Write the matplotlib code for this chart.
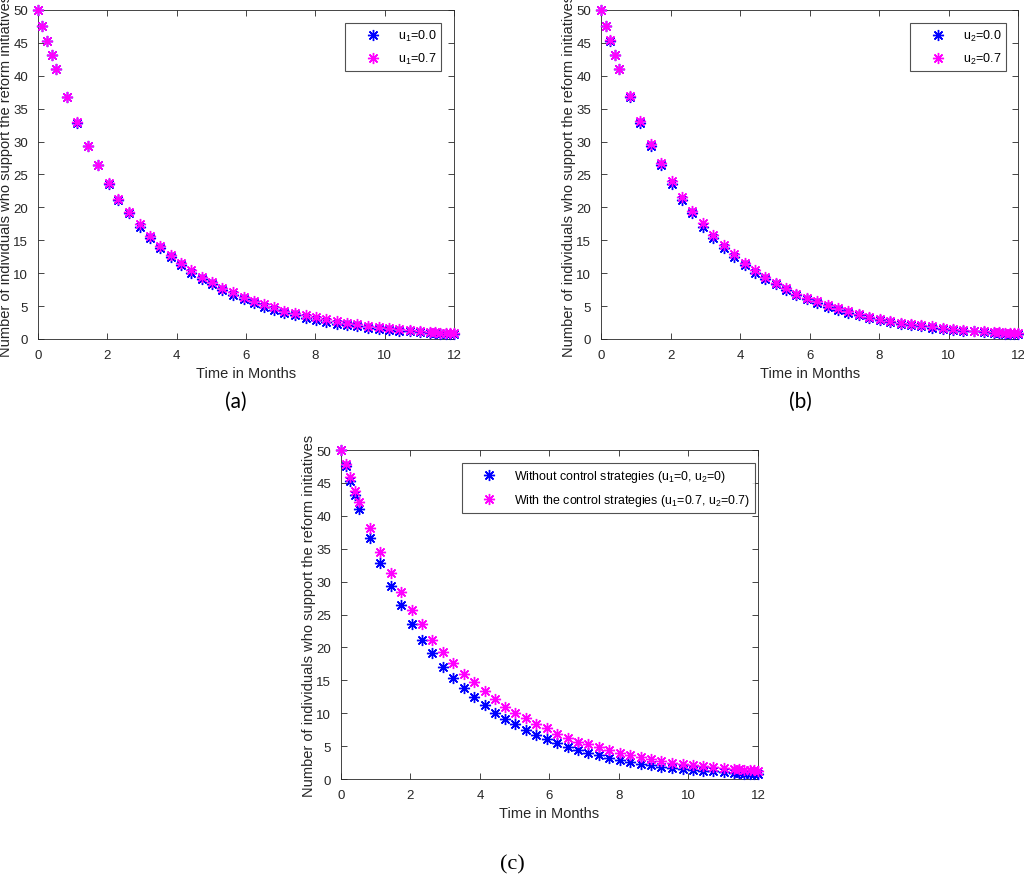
import numpy as np
import matplotlib
matplotlib.use("Agg")
import matplotlib.pyplot as plt

plt.rcParams['font.family'] = ['Liberation Sans', 'DejaVu Sans']
plt.rcParams['mathtext.fontset'] = 'custom'
plt.rcParams['mathtext.rm'] = 'Liberation Sans'
plt.rcParams['mathtext.it'] = 'Liberation Sans'

# time points (months)
t = [0, 0.13, 0.27, 0.40, 0.52, 0.83, 1.13, 1.43, 1.74, 2.04,
     2.32, 2.62, 2.93, 3.23, 3.53, 3.83, 4.13, 4.42, 4.72, 5.02,
     5.32, 5.62, 5.93, 6.22, 6.52, 6.82, 7.11, 7.42, 7.72, 8.02,
     8.31, 8.62, 8.91, 9.21, 9.52, 9.83, 10.13, 10.42, 10.72, 11.01,
     11.31, 11.46, 11.61, 11.76, 11.89, 12.0]

# no control (u1=0, u2=0)
no_control = [50, 47.6, 45.3, 43.1, 41.0, 36.7, 32.8, 29.3, 26.4, 23.6,
              21.1, 19.1, 17.0, 15.4, 13.8, 12.5, 11.2, 10.0, 9.1, 8.3,
              7.4, 6.7, 6.1, 5.5, 4.9, 4.4, 4.0, 3.6, 3.2, 2.9,
              2.6, 2.3, 2.1, 1.9, 1.7, 1.55, 1.35, 1.25, 1.15, 1.0,
              0.9, 0.85, 0.8, 0.75, 0.72, 0.7]

# u1 = 0.7
u1_07 = [50, 47.6, 45.3, 43.1, 41.0, 36.8, 32.9, 29.4, 26.5, 23.7,
         21.3, 19.3, 17.4, 15.7, 14.2, 12.8, 11.6, 10.5, 9.4, 8.6,
         7.8, 7.1, 6.4, 5.8, 5.3, 4.8, 4.3, 3.9, 3.6, 3.3,
         3.0, 2.7, 2.4, 2.2, 2.0, 1.8, 1.6, 1.5, 1.35, 1.2,
         1.05, 1.0, 0.95, 0.92, 0.9, 0.88]

# u2 = 0.7
u2_07 = [50, 47.6, 45.4, 43.2, 41.1, 37.0, 33.1, 29.7, 26.8, 24.0,
         21.6, 19.5, 17.6, 15.8, 14.3, 12.9, 11.6, 10.5, 9.4, 8.5,
         7.7, 6.9, 6.3, 5.7, 5.1, 4.7, 4.2, 3.8, 3.4, 3.1,
         2.8, 2.5, 2.3, 2.1, 1.9, 1.7, 1.5, 1.4, 1.25, 1.15,
         1.05, 1.0, 0.95, 0.9, 0.88, 0.85]

# u1 = 0.7, u2 = 0.7
both_07 = [50, 47.9, 45.9, 43.8, 42.1, 38.1, 34.5, 31.3, 28.4, 25.7,
           23.5, 21.2, 19.3, 17.6, 16.0, 14.7, 13.4, 12.1, 11.0, 10.0,
           9.2, 8.3, 7.7, 6.9, 6.3, 5.7, 5.3, 4.8, 4.4, 4.0,
           3.7, 3.3, 3.0, 2.8, 2.5, 2.3, 2.2, 2.0, 1.9, 1.7,
           1.5, 1.45, 1.4, 1.35, 1.3, 1.25]

ylab = 'Number of individuals who support the reform initiatives'
dark = (0.15, 0.15, 0.15)
star = (8, 2, 0)


def panel(ax, y1, y2, lab1, lab2, legend_box, leg_size):
    ax.plot(t, y1, linestyle='none', marker=star, ms=8, mew=1.0,
            color='blue', label=lab1, clip_on=False, zorder=3)
    ax.plot(t, y2, linestyle='none', marker=star, ms=8, mew=1.0,
            color='magenta', label=lab2, clip_on=False, zorder=4)
    ax.set_xlim(0, 12)
    ax.set_ylim(0, 50)
    ax.set_xticks(np.arange(0, 13, 2))
    ax.set_yticks(np.arange(0, 51, 5))
    ax.tick_params(direction='in', top=True, right=True, labelsize=9.5,
                   colors=dark, length=4, width=0.6, pad=7)
    for s in ax.spines.values():
        s.set_color(dark)
        s.set_linewidth(0.6)
    ax.set_xlabel('Time in Months', fontsize=10.5, color=dark, labelpad=4)
    ax.set_ylabel(ylab, fontsize=10.5, color=dark, labelpad=0)
    leg = ax.legend(loc='upper right', bbox_to_anchor=legend_box,
                    fontsize=leg_size, frameon=True, fancybox=False,
                    edgecolor=dark, handlelength=3.6, handletextpad=0.2,
                    borderpad=0.4, labelspacing=0.65, borderaxespad=0)
    leg.get_frame().set_linewidth(0.8)
    return ax


fig = plt.figure(figsize=(10.24, 8.78), dpi=100)

ax_a = fig.add_axes([0.0371, 0.6128, 0.4062, 0.3747])
panel(ax_a, no_control, u1_07, r'u$_1$=0.0', r'u$_1$=0.7', (0.969, 0.96), 9)

ax_b = fig.add_axes([0.5869, 0.6128, 0.4075, 0.3747])
panel(ax_b, no_control, u2_07, r'u$_2$=0.0', r'u$_2$=0.7', (0.971, 0.96), 9)

ax_c = fig.add_axes([0.3330, 0.1116, 0.4072, 0.3747])
panel(ax_c, no_control, both_07,
      r'Without control strategies (u$_1$=0, u$_2$=0)',
      r'With the control strategies (u$_1$=0.7, u$_2$=0.7)', (0.993, 0.96), 8.9)

fig.text(236 / 1024, 1 - 402 / 878, '(a)', ha='center', va='center',
         fontsize=15, family='Lato')
fig.text(800 / 1024, 1 - 402 / 878, '(b)', ha='center', va='center',
         fontsize=15, family='Lato')
fig.text(512 / 1024, 1 - 865 / 878, '(c)', ha='center', va='center',
         fontsize=16, family='Liberation Serif')

fig.savefig('out.png', dpi=100)
